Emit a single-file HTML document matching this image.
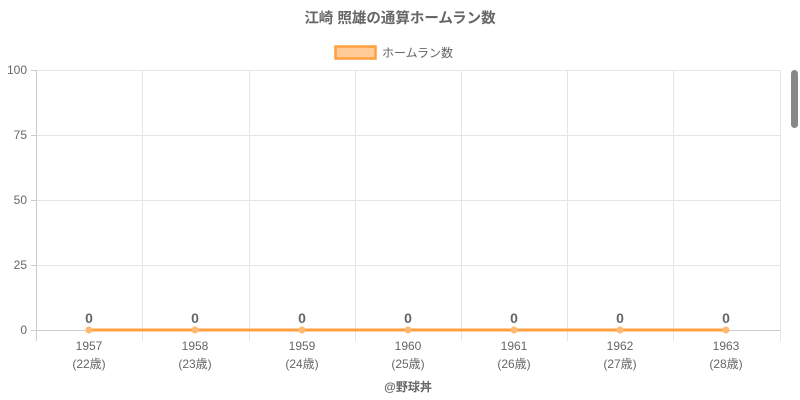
<!DOCTYPE html>
<html><head><meta charset="utf-8"><style>
html,body{margin:0;padding:0;background:#fff;}
svg{display:block;font-family:"Liberation Sans","Noto Sans CJK JP",sans-serif;}
</style></head><body>
<svg width="800" height="400" viewBox="0 0 800 400">
<text x="400" y="23" text-anchor="middle" font-size="14.5" font-weight="bold" fill="#666">江崎 照雄の通算ホームラン数</text>
<rect x="335.5" y="46.5" width="40" height="12" fill="#ffcc99" stroke="#ff9f40" stroke-width="2.5"/>
<text x="382" y="57" font-size="12" fill="#666">ホームラン数</text>
<g stroke="#e5e5e5" stroke-width="1">
<line x1="36" y1="70.5" x2="780" y2="70.5"/>
<line x1="36" y1="135.5" x2="780" y2="135.5"/>
<line x1="36" y1="200.5" x2="780" y2="200.5"/>
<line x1="36" y1="265.5" x2="780" y2="265.5"/>
<line x1="142.5" y1="70" x2="142.5" y2="341"/>
<line x1="249.5" y1="70" x2="249.5" y2="341"/>
<line x1="355.5" y1="70" x2="355.5" y2="341"/>
<line x1="461.5" y1="70" x2="461.5" y2="341"/>
<line x1="567.5" y1="70" x2="567.5" y2="341"/>
<line x1="673.5" y1="70" x2="673.5" y2="341"/>
<line x1="780.5" y1="70" x2="780.5" y2="341"/>
</g>
<g stroke="#ccc" stroke-width="1">
<line x1="36.5" y1="70" x2="36.5" y2="341"/>
<line x1="31" y1="330.5" x2="780" y2="330.5"/>
<line x1="31" y1="70.5" x2="36" y2="70.5"/>
<line x1="31" y1="135.5" x2="36" y2="135.5"/>
<line x1="31" y1="200.5" x2="36" y2="200.5"/>
<line x1="31" y1="265.5" x2="36" y2="265.5"/>
</g>
<g font-size="12" fill="#666" text-anchor="end">
<text x="27" y="74">100</text><text x="27" y="139">75</text><text x="27" y="204">50</text><text x="27" y="269">25</text><text x="27" y="334">0</text>
</g>
<line x1="89" y1="330" x2="726" y2="330" stroke="#ff9f40" stroke-width="3"/>
<g fill="#ffb870">
<circle cx="89" cy="330" r="3.5"/><circle cx="195" cy="330" r="3.5"/><circle cx="302" cy="330" r="3.5"/><circle cx="408" cy="330" r="3.5"/><circle cx="514" cy="330" r="3.5"/><circle cx="620" cy="330" r="3.5"/><circle cx="726" cy="330" r="3.5"/>
</g>
<g font-size="14" font-weight="bold" fill="#666" text-anchor="middle">
<text x="89" y="323">0</text><text x="195" y="323">0</text><text x="302" y="323">0</text><text x="408" y="323">0</text><text x="514" y="323">0</text><text x="620" y="323">0</text><text x="726" y="323">0</text>
</g>
<g font-size="12" fill="#666" text-anchor="middle">
<text x="89" y="350">1957</text><text x="195" y="350">1958</text><text x="302" y="350">1959</text><text x="408" y="350">1960</text><text x="514" y="350">1961</text><text x="620" y="350">1962</text><text x="726" y="350">1963</text>
<text x="89" y="368">(22歳)</text><text x="195" y="368">(23歳)</text><text x="302" y="368">(24歳)</text><text x="408" y="368">(25歳)</text><text x="514" y="368">(26歳)</text><text x="620" y="368">(27歳)</text><text x="726" y="368">(28歳)</text>
</g>
<text x="408" y="391" text-anchor="middle" font-size="12" font-weight="bold" fill="#666">@野球丼</text>
<rect x="791" y="70" width="7" height="58" rx="3.5" fill="#888"/>
</svg>
</body></html>
